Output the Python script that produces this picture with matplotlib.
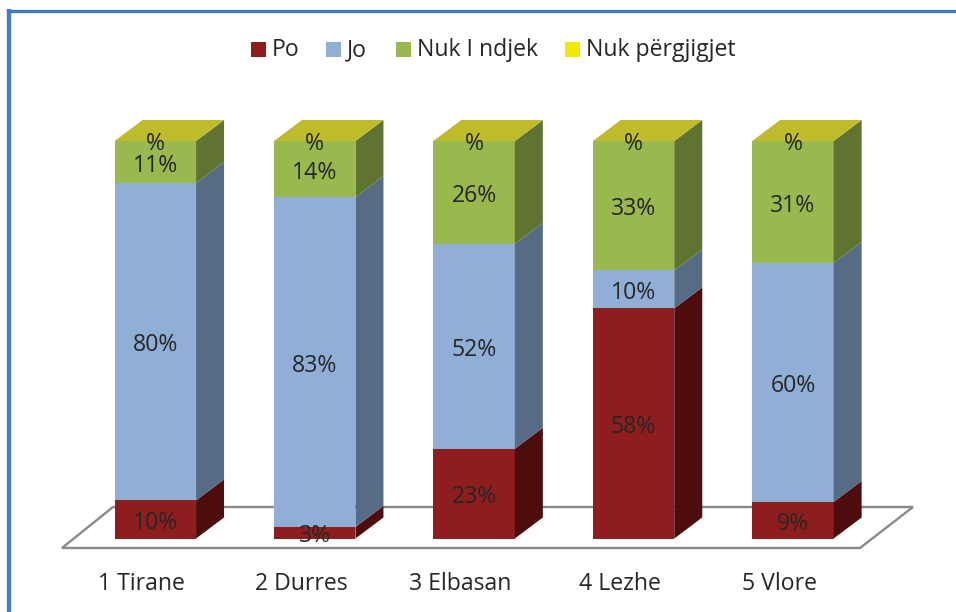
import matplotlib
matplotlib.use("Agg")
import matplotlib.pyplot as plt
from matplotlib.patches import Polygon, Rectangle

categories = ["1 Tirane", "2 Durres", "3 Elbasan", "4 Lezhe", "5 Vlore"]
series_names = ["Po", "Jo", "Nuk I ndjek", "Nuk përgjigjet"]
po = [9.6, 2.9, 22.6, 58.0, 9.2]
jo = [80.0, 83.0, 51.6, 9.6, 60.1]
nuk_ndjek = [10.6, 14.1, 25.9, 32.6, 30.7]
nuk_pergjigjet = [0, 0, 0, 0, 0]
front_colors = ["#8E1E1E", "#8FAFD6", "#99B84E", "#F2E800"]
side_colors = ["#4F0C0C", "#566C85", "#5E7430", "#8F8A00"]
top_color = "#BFBC2C"

W, H = 956, 612
plt.rcParams["font.family"] = ["Open Sans", "DejaVu Sans"]
fig = plt.figure(figsize=(W / 100, H / 100), dpi=100)
ax = fig.add_axes([0, 0, 1, 1])
ax.axis("off")

X0, DX = 155.3, 159.4   # pixel centre of first bar, pixel spacing
Y0, DY = 538.5, 3.975   # pixel of 0 %, pixels per 1 %
ax.set_xlim((0 - X0) / DX, (W - X0) / DX)
ax.set_ylim((Y0 - H) / DY, Y0 / DY)
fx = 1 / DX
fy = 1 / DY
bw = 81.5 * fx
depth_x, depth_y = 28 * fx, 21 * fy
TEXT = "#262626"
LABEL_SIZE = 16.6

# floor
ax.add_patch(Polygon(
    [((62 - X0) * fx, (Y0 - 548) * fy), ((860 - X0) * fx, (Y0 - 548) * fy),
     ((913 - X0) * fx, (Y0 - 507) * fy), ((113 - X0) * fx, (Y0 - 507) * fy)],
    closed=True, fc="white", ec="#8A8A8A", lw=1.7, zorder=1))

# stacked 3D bars, normalised to 100 %
values = [po, jo, nuk_ndjek, nuk_pergjigjet]
for i in range(len(categories)):
    total = sum(v[i] for v in values)
    bottom = 0.0
    xl, xr = i - bw / 2, i + bw / 2
    for s, v in enumerate(values):
        h = v[i] / total * 100
        if h > 0:
            ax.add_patch(Rectangle((xl, bottom), bw, h, fc=front_colors[s], ec="none", zorder=3))
            ax.add_patch(Polygon([(xr, bottom), (xr + depth_x, bottom + depth_y),
                                  (xr + depth_x, bottom + h + depth_y), (xr, bottom + h)],
                                 closed=True, fc=side_colors[s], ec="none", zorder=3))
            ax.text(i, bottom + h / 2 - 3.5 * fy, f"{v[i]:.0f}%", ha="center", va="center",
                    fontsize=LABEL_SIZE, color=TEXT, zorder=5)
        else:
            ax.text(i, bottom - 3.5 * fy, "%", ha="center", va="center",
                    fontsize=LABEL_SIZE, color=TEXT, zorder=5)
        bottom += h
    ax.add_patch(Polygon([(xl, 100), (xr, 100), (xr + depth_x, 100 + depth_y), (xl + depth_x, 100 + depth_y)],
                         closed=True, fc=top_color, ec="none", zorder=3))
    ax.text(i - 0.085, (Y0 - 584) * fy, categories[i], ha="center", va="center",
            fontsize=LABEL_SIZE, color=TEXT)

# legend
leg_x = [251, 326, 396, 565]
for px, name, c in zip(leg_x, series_names, front_colors):
    ax.add_patch(Rectangle(((px - X0) * fx, (Y0 - 57) * fy), 15 * fx, 15 * fy, fc=c, ec="none"))
    ax.text((px + 21 - X0) * fx, (Y0 - 50.5) * fy, name, ha="left", va="center",
            fontsize=LABEL_SIZE, color=TEXT)

# frame of the chart box
fig.add_artist(plt.Line2D([9 / W, 9 / W], [0, 1 - 9 / H], color="#4A7EBB", lw=3.2, solid_capstyle="butt"))
fig.add_artist(plt.Line2D([7 / W, 1], [1 - 10.5 / H, 1 - 10.5 / H], color="#3F7BBE", lw=2.4, solid_capstyle="butt"))

fig.savefig("out.png", dpi=100)
